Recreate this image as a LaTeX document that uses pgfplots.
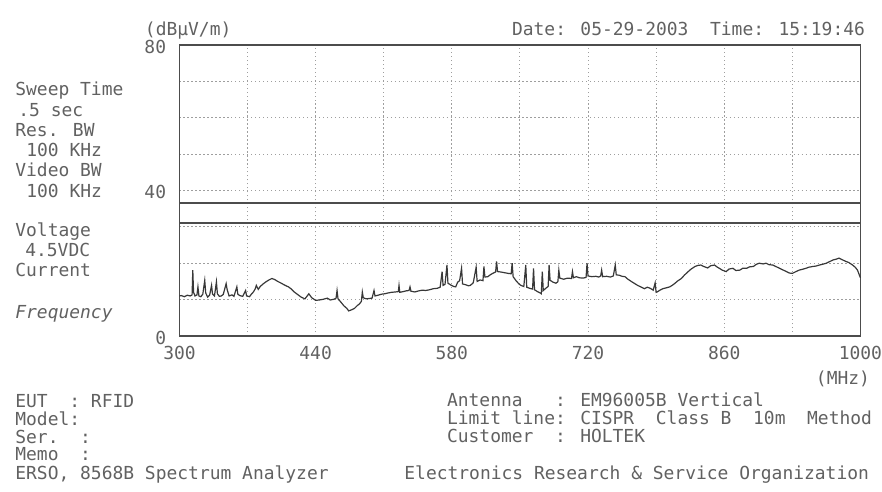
\documentclass[border=0pt]{standalone}
\usepackage{pgfplots}
\pgfplotsset{compat=1.18}
\usepackage{fontspec}
\setmainfont{DejaVu Sans Mono}
\definecolor{ink}{gray}{0.38}
\definecolor{trace}{gray}{0.22}
\definecolor{gridc}{gray}{0.62}
\definecolor{frame}{gray}{0.3}

\pgfplotstableread{
f db
300 11.0
302 11.1
305 10.8
308 11.2
311 11.0
313 11.3
313.7 18.1
314.5 12.0
316 11.0
318 11.3
319 13.5
320 11.0
322 10.8
324 11.5
326 15.3
327 11.8
329 10.7
331 11.2
333 13.9
334 11.5
336 11.0
338 14.9
339 11.6
341 10.9
343 11.0
345 11.4
348 14.4
349 12.8
351 11.0
354 11.3
356 10.9
359 13.5
360 11.5
362 11.1
365 10.9
368 12.5
369 11.0
372 10.8
374 11.5
376 12.1
378 13.0
379 13.9
381 12.8
383 13.6
386 14.3
389 14.9
392 15.4
395 15.8
398 15.5
401 15.0
404 14.6
408 14.0
412 13.5
415 12.9
418 12.1
421 11.5
425 10.7
429 10.2
433 11.6
436 10.5
440 9.8
444 9.9
448 10.1
452 10.4
455 9.9
459 10.1
461 10.4
462 12.5
463 10.2
466 9.3
469 8.3
472 7.6
474 6.9
477 7.2
480 7.6
483 8.4
485 8.8
487 9.5
488 12.1
489 10.5
492 10.2
495 10.3
498 10.4
500 12.5
501 11.0
504 11.2
508 11.5
511 11.6
514 11.8
518 12.0
522 12.1
525 12.2
525.7 13.9
526.5 12.0
530 12.2
533 12.4
536 12.5
537 13.5
538 12.3
542 12.1
546 12.4
550 12.6
553 12.5
557 12.7
561 13.0
565 13.1
568 13.4
570 17.7
571 13.9
573 14.2
575 19.5
576 14.5
579 14.0
582 13.6
584 13.5
586 14.8
588 15.2
590 18.6
591 14.3
594 14.1
597 13.8
599 13.9
602 14.6
605 18.9
606 15.0
609 15.4
612 15.2
613 19.1
614 16.2
617 16.3
620 16.9
622 17.2
625 17.6
626 20.5
627 17.7
630 17.6
634 17.4
638 17.2
641 17.1
642 20.0
643 16.3
646 15.2
649 14.3
651 13.9
654 13.6
656 19.5
657 13.4
660 13.1
663 12.9
664 18.6
665 12.7
668 12.2
671 11.8
672 11.6
673 17.7
674 12.5
677 13.2
679 13.6
680 19.5
681 15.3
684 14.8
687 14.5
689 14.9
690 18.1
691 15.9
695 15.6
699 15.9
703 15.8
704 17.7
705 16.0
708 16.3
711 16.0
715 15.9
718 16.1
719 20.0
720 16.5
724 16.3
728 16.4
731 16.2
733 16.5
734 18.1
735 16.3
739 16.4
743 16.2
746 16.5
748 19.5
749 16.8
752 16.7
755 16.4
758 16.3
761 15.6
765 14.9
768 14.4
771 13.9
775 13.4
778 13.0
781 13.4
784 13.1
787 12.6
789 14.6
790 12.0
791 12.1
794 12.6
797 13.0
800 13.2
804 13.5
807 14.0
809 14.4
812 15.1
816 15.8
819 16.7
823 17.7
826 18.4
830 19.1
833 19.4
836 19.5
839 19.1
843 18.7
846 19.3
850 19.5
853 18.9
855 18.6
858 18.1
862 17.7
865 18.4
869 18.6
872 18.0
876 18.1
879 18.6
883 18.6
886 19.0
890 19.1
893 19.7
896 20.0
900 19.8
903 20.0
906 19.6
910 19.5
913 19.1
917 18.6
920 18.2
924 17.7
927 17.3
930 17.2
933 17.6
937 18.1
940 18.3
944 18.6
947 18.9
951 19.1
954 19.2
958 19.5
961 19.7
965 20.0
968 20.4
972 20.9
975 21.1
978 21.4
981 21.0
985 20.5
988 20.2
992 19.5
995 18.8
997 18.1
999 16.7
1000 16.0
}\trace

\begin{document}
\begin{tikzpicture}[font=\fontsize{9}{10}\selectfont, every node/.append style={text=ink, inner sep=0pt}]
\begin{scope}[x=0.5pt,y=-0.5pt]
\path[use as bounding box] (0,0) rectangle (882,493);
\end{scope}

\begin{axis}[
at={(90pt,-168.5pt)}, anchor=south west,
scale only axis, width=341.5pt, height=146pt,
xmin=300, xmax=1000, ymin=0, ymax=80,
xtick={300,440,580,720,860,1000},
minor xtick={370,510,650,790,930},
ytick={0,40,80},
minor ytick={10,20,30,50,60,70},
grid=both,
major grid style={gridc, line width=0.5pt, dash pattern=on 0.6pt off 1.4pt},
minor grid style={gridc, line width=0.5pt, dash pattern=on 0.6pt off 1.4pt},
major tick length=0pt, minor tick length=0pt,
axis line style={frame, line width=0.7pt},
/pgf/number format/assume math mode=true,
/pgf/number format/1000 sep={},
ticklabel style={text=ink},
xticklabel style={yshift=-5pt},
yticklabel style={xshift=-6.5pt, yshift=-1pt},
clip=false,
]
\addplot[frame, line width=0.7pt] coordinates {(300,36.5) (1000,36.5)};
\addplot[frame, line width=0.7pt] coordinates {(300,31) (1000,31)};
\addplot[trace, line width=0.6pt] table[x=f, y=db] {\trace};
\end{axis}

\begin{scope}[x=0.5pt,y=-0.5pt]
\node[anchor=mid west] at (145,30) {(dBμV/m)};
\node[anchor=mid east] at (868,30) {Date: 05-29-2003~~Time: 15:19:46};

\node[anchor=mid west] at (15,90) {Sweep Time};
\node[anchor=mid west] at (18,111) {.5 sec};
\node[anchor=mid west] at (15,131) {Res. BW};
\node[anchor=mid west] at (26,152) {100 KHz};
\node[anchor=mid west] at (15,172) {Video BW};
\node[anchor=mid west] at (26,193) {100 KHz};
\node[anchor=mid west] at (15,232) {Voltage};
\node[anchor=mid west] at (25,252) {4.5VDC};
\node[anchor=mid west] at (15,272) {Current};
\node[anchor=mid west] at (15,314) {\itshape Frequency};

\node[anchor=mid east] at (873,380) {(MHz)};

\node[anchor=mid west] at (15,403) {EUT~~: RFID};
\node[anchor=mid west] at (15,421) {Model:};
\node[anchor=mid west] at (15,439) {Ser.~~:};
\node[anchor=mid west] at (15,456) {Memo~~:};
\node[anchor=mid west] at (15,475) {ERSO, 8568B Spectrum Analyzer};

\node[anchor=mid west] at (448,402) {Antenna~~~: EM96005B Vertical};
\node[anchor=mid west] at (448,420) {Limit line: CISPR~~Class B~~10m~~Method};
\node[anchor=mid west] at (448,438) {Customer~~: HOLTEK};
\node[anchor=mid east] at (872,475) {Electronics Research \& Service Organization};
\end{scope}
\end{tikzpicture}
\end{document}
